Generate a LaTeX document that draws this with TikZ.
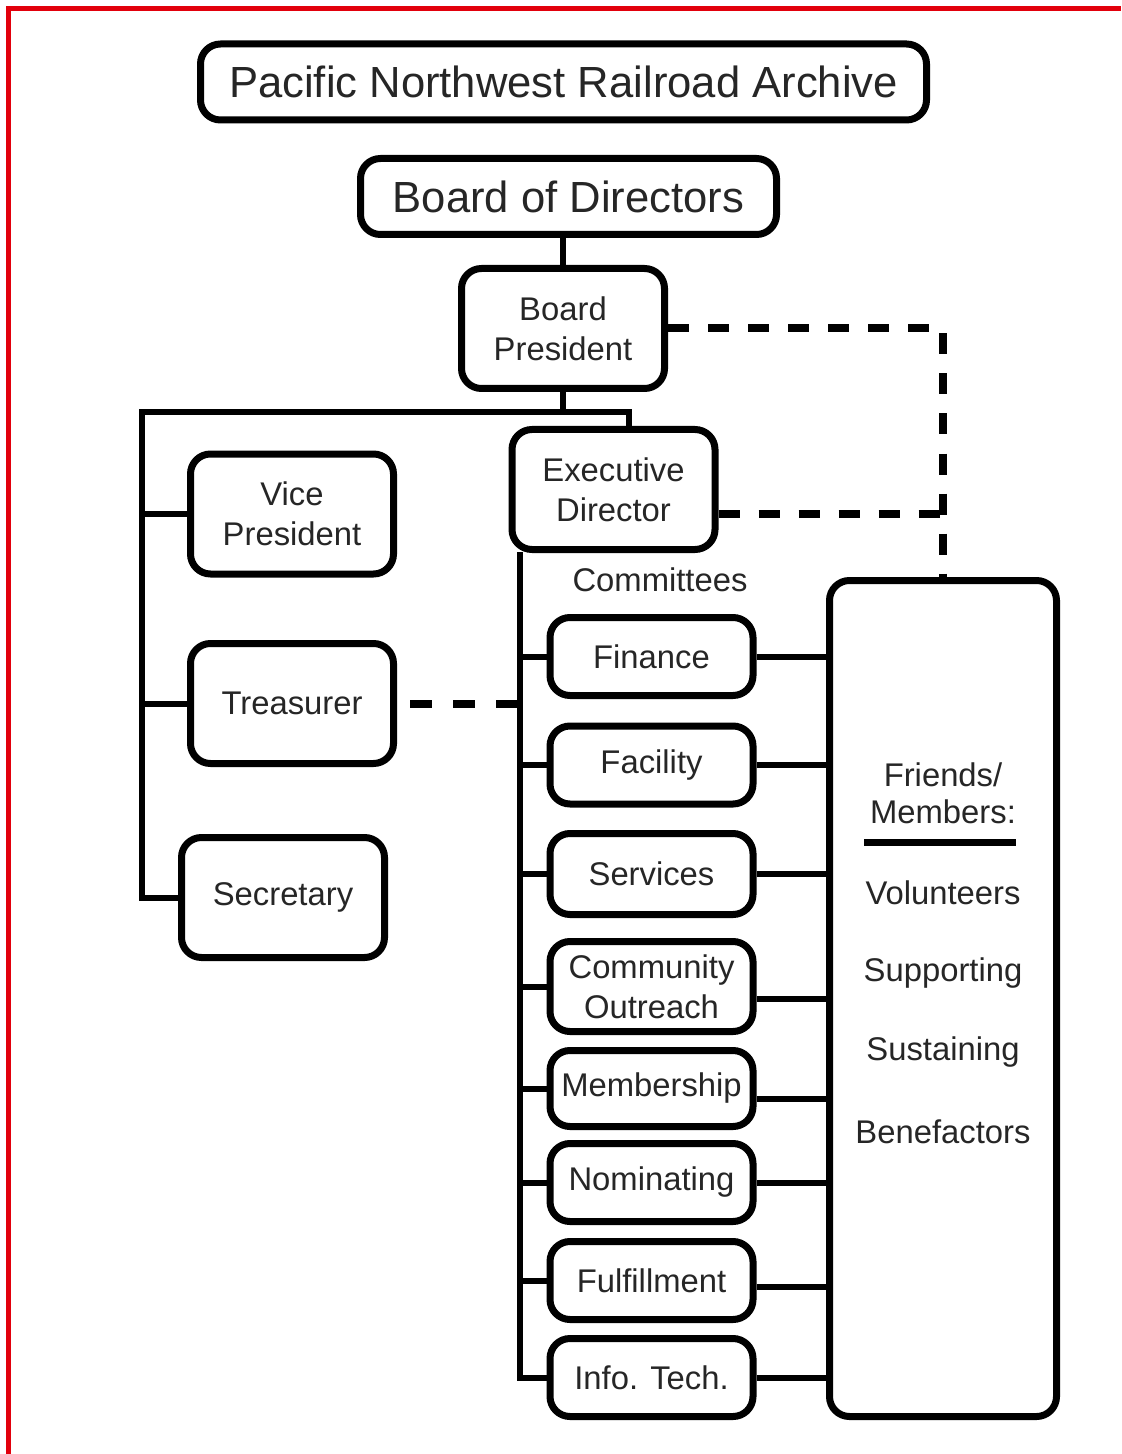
\documentclass[tikz,border=0pt]{standalone}
\usepackage{fontspec}
\setmainfont{Liberation Sans}
\usepackage{tikz}
\definecolor{framered}{RGB}{226,0,12}
\tikzset{
    office/.style = {rectangle, rounded corners = 10pt, draw = black, line width = 3.5pt, align = center, text = black!85, font = \fontsize{16.4}{20}\selectfont, minimum width = 101.5pt, minimum height = 60pt, inner sep = 2pt},
    heading/.style = {office, font = \fontsize{21.8}{26}\selectfont, minimum height = 38pt},
    committee/.style = {office, minimum height = 39pt},
    caption/.style = {align = center, text = black!85, font = \fontsize{16.4}{18.5}\selectfont, inner sep = 1pt},
    wire/.style = {line width = 3pt},
    dashwire/.style = {line width = 4pt, dash pattern = on 10.5pt off 9.5pt},
    shortdash/.style = {line width = 4pt, dash pattern = on 11pt off 10.5pt, dash phase = 15pt},
    rule/.style = {line width = 3.5pt},
    frame/.style = {framered, line width = 2.5pt}
}
\begin{document}
\begin{tikzpicture}[x = 0.5pt, y = -0.5pt]
    \fill [white] (0,0) rectangle (1121,1454);
    \useasboundingbox (0,0) rectangle (1121,1454);
    \draw [frame] (8.5,1454) -- (8.5,8.5) -- (1121,8.5);

    % top of the chart
    \node [heading, minimum width = 363pt] (archive) at (563.5,82) {Pacific Northwest Railroad Archive};
    \node [heading, minimum width = 208pt] (board) at (568.5,196.5) {Board of Directors};
    \node [office] (president) at (563,328.5) {Board\\President};
    \node [office] (executive) at (613.5,489.5) {Executive\\Director};

    % officers
    \node [office] (vice) at (292,514) {Vice\\President};
    \node [office] (treasurer) at (292,703.5) {Treasurer};
    \node [office] (secretary) at (283,897.5) {Secretary};

    % committees
    \node [caption] (committees) at (660,580) {Committees};
    \node [committee] (finance) at (651.5,656.5) {Finance};
    \node [committee] (facility) at (651.5,765) {Facility};
    \node [committee, minimum height = 40.5pt] (services) at (651.5,874) {Services};
    \node [committee, minimum height = 45pt] (outreach) at (651.5,986.5) {Community\\Outreach};
    \node [committee, minimum height = 38pt] (membership) at (651.5,1088.5) {Membership};
    \node [committee] (nominating) at (651.5,1182.5) {Nominating};
    \node [committee] (fulfillment) at (651.5,1280.5) {Fulfillment};
    \node [committee] (infotech) at (651.5,1377.5) {Info. Tech.};

    % friends and members
    \node [office, minimum width = 113.5pt, minimum height = 418pt] (friends) at (943,998.5) {};
    \node [caption] (friendshead) at (943,793) {Friends/\\Members:};
    \draw [rule] (864,842) -- (1016,842);
    \node [caption] (volunteers) at (943,893) {Volunteers};
    \node [caption] (supporting) at (943,973) {Supporting};
    \node [caption] (sustaining) at (943,1052) {Sustaining};
    \node [caption] (benefactors) at (943,1132) {Benefactors};

    % solid lines
    \coordinate (officers) at (142,412);
    \coordinate (spine) at (520,552);
    \draw [wire] (president.north) -- (president.north |- board.south);
    \draw [wire] (president) -- (president |- officers);
    \draw [wire] ([xshift = 7.5pt]executive.north) |- (officers) |- (secretary.west);
    \draw [wire] (officers |- vice) -- (vice);
    \draw [wire] (officers |- treasurer) -- (treasurer);
    \draw [wire] (spine) |- (infotech.west);
    \draw [wire] (spine |- finance) -- (finance);
    \draw [wire] (spine |- facility) -- (facility);
    \draw [wire] (spine |- services) -- (services);
    \draw [wire] (spine |- outreach) -- (outreach);
    \draw [wire] (spine |- membership) -- (membership);
    \draw [wire] (spine |- nominating) -- (nominating);
    \draw [wire] (spine |- fulfillment) -- (fulfillment);
    \draw [wire] (finance) -- (finance -| friends.west);
    \draw [wire] (facility) -- (facility -| friends.west);
    \draw [wire] (services) -- (services -| friends.west);
    \draw [wire] ([yshift = -6pt]outreach.east) -- ([yshift = -6pt]outreach.east -| friends.west);
    \draw [wire] ([yshift = -5pt]membership.east) -- ([yshift = -5pt]membership.east -| friends.west);
    \draw [wire] (nominating) -- (nominating -| friends.west);
    \draw [wire] ([yshift = -3pt]fulfillment.east) -- ([yshift = -3pt]fulfillment.east -| friends.west);
    \draw [wire] (infotech) -- (infotech -| friends.west);

    % dashed lines
    \draw [dashwire] (president) -| (friends.north);
    \draw [dashwire] ([yshift = -12pt]executive.east) -- ([yshift = -12pt]executive.east -| friends.north);
    \draw [shortdash] (treasurer) -- (treasurer -| spine);
\end{tikzpicture}
\end{document}
